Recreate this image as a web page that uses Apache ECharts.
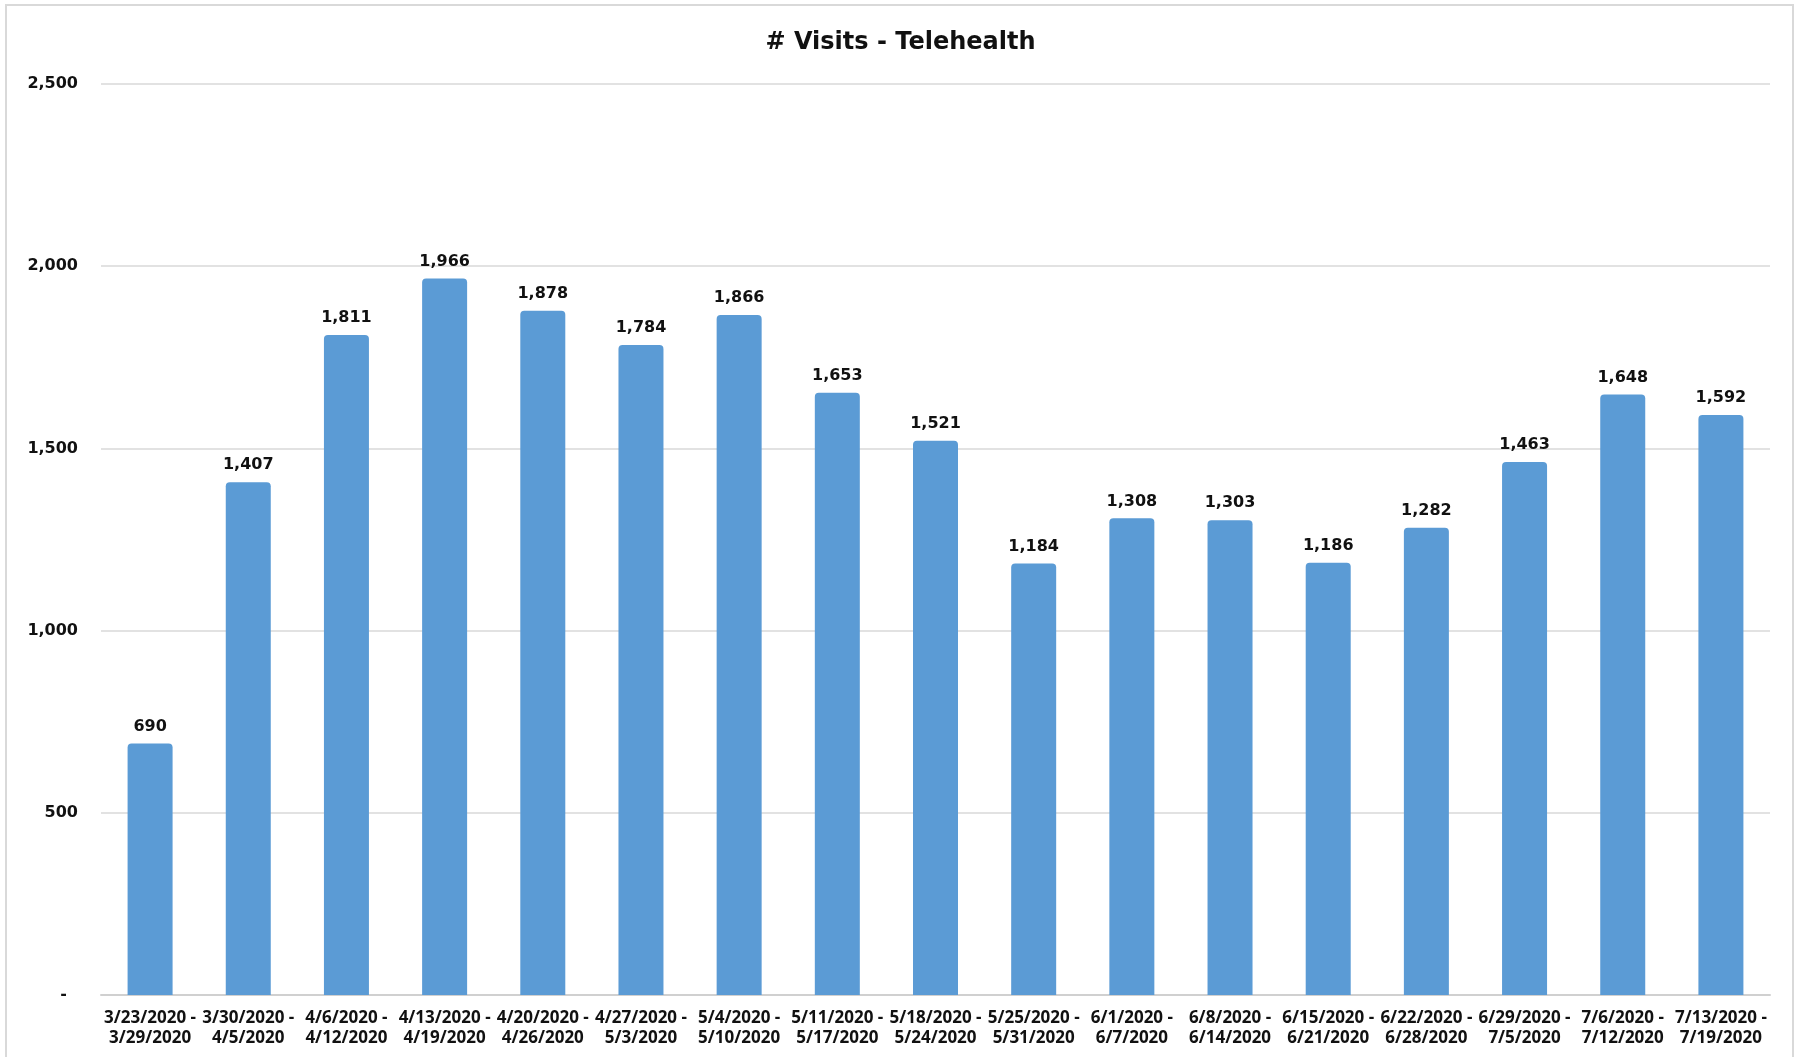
<!DOCTYPE html>
<html>
<head>
<meta charset="utf-8">
<title># Visits - Telehealth</title>
<script src="https://cdn.jsdelivr.net/npm/echarts@6/dist/echarts.min.js"></script>
<style>
  html, body { margin: 0; padding: 0; background: #ffffff; }
  #chart { width: 1801px; height: 1057px; }
</style>
</head>
<body>
<div id="chart"></div>
<script>
// Weekly date ranges (x-axis categories)
const weeks = [
  '3/23/2020 -\n3/29/2020', '3/30/2020 -\n4/5/2020', '4/6/2020 -\n4/12/2020',
  '4/13/2020 -\n4/19/2020', '4/20/2020 -\n4/26/2020', '4/27/2020 -\n5/3/2020',
  '5/4/2020 -\n5/10/2020', '5/11/2020 -\n5/17/2020', '5/18/2020 -\n5/24/2020',
  '5/25/2020 -\n5/31/2020', '6/1/2020 -\n6/7/2020', '6/8/2020 -\n6/14/2020',
  '6/15/2020 -\n6/21/2020', '6/22/2020 -\n6/28/2020', '6/29/2020 -\n7/5/2020',
  '7/6/2020 -\n7/12/2020', '7/13/2020 -\n7/19/2020'
];

// Telehealth visit counts per week
const visits = [690, 1407, 1811, 1966, 1878, 1784, 1866, 1653, 1521, 1184, 1308, 1303, 1186, 1282, 1463, 1648, 1592];

// Value axis range
const yMin = 0;
const yMax = 2500;
const yStep = 500;

const fmt = v => v.toLocaleString('en-US');

const chart = echarts.init(document.getElementById('chart'), null, { renderer: 'canvas' });

chart.setOption({
  backgroundColor: '#ffffff',
  animation: false,
  title: {
    text: '# Visits - Telehealth',
    left: 'center',
    top: 26,
    textStyle: {
      fontFamily: 'DejaVu Sans',
      fontWeight: 'bold',
      fontSize: 24,
      color: '#111111'
    }
  },
  graphic: [{
    type: 'rect',
    shape: { x: 6, y: 5, width: 1787, height: 1070 },
    style: { fill: 'none', stroke: '#d9d9d9', lineWidth: 2 },
    silent: true,
    z: -1
  }],
  grid: {
    left: 101,
    right: 31,
    top: 84,
    bottom: 62,
    containLabel: false
  },
  xAxis: {
    type: 'category',
    data: weeks,
    axisLine: { show: true, lineStyle: { color: '#d0d0d0', width: 2 } },
    axisTick: { show: false },
    axisLabel: {
      interval: 0,
      margin: 13,
      fontFamily: 'Open Sans',
      fontWeight: 'bold',
      fontSize: 17,
      lineHeight: 20,
      color: '#111111'
    }
  },
  yAxis: {
    type: 'value',
    min: yMin,
    max: yMax,
    interval: yStep,
    axisLine: { show: false },
    axisTick: { show: false },
    splitLine: { lineStyle: { color: '#d9d9d9', width: 1.5 } },
    axisLabel: {
      margin: 23,
      fontFamily: 'DejaVu Sans',
      fontWeight: 'bold',
      fontSize: 16,
      color: '#111111',
      formatter: v => (v === 0 ? '-  ' : fmt(v))
    }
  },
  series: [{
    type: 'bar',
    data: visits,
    barWidth: 45,
    itemStyle: {
      color: '#5b9bd5',
      borderRadius: [4, 4, 0, 0]
    },
    label: {
      show: true,
      position: 'top',
      distance: 9,
      fontFamily: 'DejaVu Sans',
      fontWeight: 'bold',
      fontSize: 16,
      color: '#111111',
      formatter: p => fmt(p.value)
    }
  }]
});
</script>
</body>
</html>
